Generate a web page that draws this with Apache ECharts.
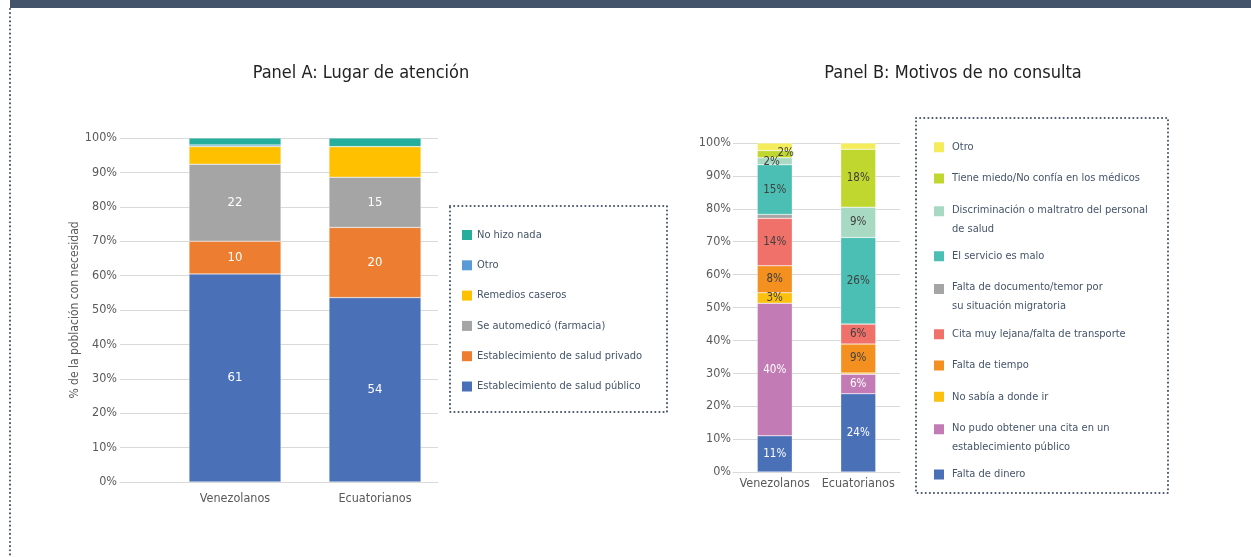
<!DOCTYPE html>
<html>
<head>
<meta charset="utf-8">
<script src="https://cdn.jsdelivr.net/npm/echarts@6/dist/echarts.min.js"></script>
<style>
  html, body { margin: 0; padding: 0; background: #fff; }
  #main { width: 1251px; height: 557px; }
</style>
</head>
<body>
<div id="main"></div>
<script>
  var categories = ['Venezolanos', 'Ecuatorianos'];

  // Panel A: Lugar de atención (% de la población con necesidad)
  var namesA = ['Establecimiento de salud público', 'Establecimiento de salud privado',
                'Se automedicó (farmacia)', 'Remedios caseros', 'Otro', 'No hizo nada'];
  var publico    = [60.5, 53.6];
  var privado    = [9.5, 20.4];
  var automedico = [22.4, 14.6];
  var remedios   = [5.1, 8.9];
  var otroA      = [0.5, 0];
  var nada       = [2.0, 2.5];
  var colorsA = ['#4a70b7', '#ed7d31', '#a5a5a5', '#ffc000', '#5b9bd5', '#26ae9c'];

  // Panel B: Motivos de no consulta (%)
  var namesB = ['Falta de dinero', 'No pudo obtener una cita en un establecimiento público',
                'No sabía a donde ir', 'Falta de tiempo', 'Cita muy lejana/falta de transporte',
                'Falta de documento/temor por su situación migratoria', 'El servicio es malo',
                'Discriminación o maltratro del personal de salud',
                'Tiene miedo/No confía en los médicos', 'Otro'];
  var dinero       = [11.0, 23.8];
  var noCita       = [40.3, 5.9];
  var noSabia      = [3.2, 0.4];
  var tiempo       = [8.2, 8.8];
  var lejana       = [14.4, 6.1];
  var documento    = [1.2, 0];
  var servicio     = [15.1, 26.3];
  var discrim      = [2.1, 9.2];
  var miedo        = [2.2, 17.6];
  var otroB        = [2.3, 1.9];
  var colorsB = ['#4a70b8', '#c27bb5', '#fcc010', '#f39020', '#f0706a',
                 '#a5a5a5', '#4bbfb3', '#a8dac3', '#c0d730', '#f4ec5a'];

  // two-line legend entries of panel B
  var legendWrapB = {
    'No pudo obtener una cita en un establecimiento público': ['No pudo obtener una cita en un', 'establecimiento público'],
    'Falta de documento/temor por su situación migratoria': ['Falta de documento/temor por', 'su situación migratoria'],
    'Discriminación o maltratro del personal de salud': ['Discriminación o maltratro del personal', 'de salud']
  };

  var FONT = '"DejaVu Sans Condensed", "DejaVu Sans", sans-serif';
  var GRID_LINE = '#d9d9d9';
  var TEXT_GRAY = '#595959';
  var LEGEND_TEXT = '#44546a';

  // legend B icons: square centred for one-line items, on the first line for two-line items
  var ICON_ONE = 'path://M0,0h0.01v0.01h-0.01zM0,6.25h10v10h-10zM0,22.5h0.01v0.01h-0.01z';
  var ICON_TWO = 'path://M0,0h10v10h-10zM0,22.5h0.01v0.01h-0.01z';

  var valuesA = [publico, privado, automedico, remedios, otroA, nada];
  var labeledA = [true, true, true, false, false, false];
  var valuesB = [dinero, noCita, noSabia, tiempo, lejana, documento, servicio, discrim, miedo, otroB];
  var labeledB = [true, true, true, true, true, false, true, true, true, false];
  var whiteLabelB = [true, true, false, false, false, false, false, false, false, false];

  var series = [];
  namesA.forEach(function (name, i) {
    series.push({
      name: name,
      type: 'bar',
      stack: 'A',
      xAxisIndex: 1,
      yAxisIndex: 1,
      barWidth: 92,
      data: valuesA[i],
      itemStyle: { color: colorsA[i], borderColor: 'rgba(255,255,255,0.6)', borderWidth: 0.5 },
      label: {
        show: labeledA[i],
        position: 'inside',
        color: '#fff',
        fontFamily: FONT,
        fontSize: 13,
        formatter: function (p) { return Math.round(p.value); }
      }
    });
  });
  namesB.forEach(function (name, i) {
    var data = valuesB[i].map(function (v) { return v; });
    if (i === 7) data[0] = { value: valuesB[i][0], label: { offset: [-3, 1] } };
    if (i === 8) data[0] = { value: valuesB[i][0], label: { offset: [11, -1] } };
    series.push({
      name: name,
      type: 'bar',
      stack: 'B',
      xAxisIndex: 2,
      yAxisIndex: 2,
      barWidth: 35,
      data: data,
      itemStyle: { color: colorsB[i], borderColor: 'rgba(255,255,255,0.6)', borderWidth: 0.5 },
      label: {
        show: labeledB[i],
        position: 'inside',
        color: whiteLabelB[i] ? '#fff' : '#404040',
        fontFamily: FONT,
        fontSize: 11.5,
        formatter: function (p) { return p.value >= 1.5 ? Math.round(p.value) + '%' : ''; }
      }
    });
  });

  var legendFont = { fontFamily: FONT, fontSize: 11, color: LEGEND_TEXT };

  var myChart = echarts.init(document.getElementById('main'));

  var option = {
    animation: false,
    backgroundColor: '#fff',
    title: [
      { text: 'Panel A: Lugar de atención', left: 361, top: 64, padding: 0, textAlign: 'center',
        textStyle: { fontFamily: FONT, fontSize: 18, fontWeight: 'normal', color: '#222' } },
      { text: 'Panel B: Motivos de no consulta', left: 953, top: 64, padding: 0, textAlign: 'center',
        textStyle: { fontFamily: FONT, fontSize: 18, fontWeight: 'normal', color: '#222' } }
    ],
    legend: [
      {
        orient: 'vertical',
        left: 462,
        top: 227.5,
        padding: 0,
        itemWidth: 10,
        itemHeight: 10,
        itemGap: 15.3,
        icon: 'rect',
        selectedMode: false,
        textStyle: { fontFamily: FONT, fontSize: 11, color: LEGEND_TEXT, lineHeight: 15 },
        data: namesA.slice().reverse().map(function (n) {
          return { name: n, itemStyle: { color: colorsA[namesA.indexOf(n)], borderWidth: 0 } };
        })
      },
      {
        orient: 'vertical',
        left: 934,
        top: 136,
        padding: 0,
        itemWidth: 10,
        itemHeight: 22.5,
        itemGap: 8.7,
        selectedMode: false,
        textStyle: {
          fontFamily: FONT, fontSize: 11, color: LEGEND_TEXT, lineHeight: 19, padding: [0, 0, 0, 3],
          rich: {
            a: Object.assign({ lineHeight: 22.5 }, legendFont),
            b: Object.assign({ lineHeight: 15.5 }, legendFont)
          }
        },
        formatter: function (n) {
          var w = legendWrapB[n];
          return w ? '{a|' + w[0] + '}\n{b|' + w[1] + '}' : n;
        },
        data: namesB.slice().reverse().map(function (n) {
          return { name: n, icon: legendWrapB[n] ? ICON_TWO : ICON_ONE,
                   itemStyle: { color: colorsB[namesB.indexOf(n)], borderWidth: 0 } };
        })
      }
    ],
    grid: [
      { left: 120, top: 138, width: 318, height: 344 },
      { left: 165, top: 138, width: 280, height: 344 },
      { left: 733, top: 143, width: 167, height: 329 }
    ],
    xAxis: [
      { type: 'category', gridIndex: 0, data: ['', ''],
        axisLine: { lineStyle: { color: GRID_LINE, width: 1 } },
        axisTick: { show: false }, axisLabel: { show: false } },
      { type: 'category', gridIndex: 1, data: categories,
        axisLine: { show: false }, axisTick: { show: false },
        axisLabel: { interval: 0, color: TEXT_GRAY, fontFamily: FONT, fontSize: 12.5, margin: 10 } },
      { type: 'category', gridIndex: 2, data: categories,
        axisLine: { lineStyle: { color: GRID_LINE, width: 1 } }, axisTick: { show: false },
        axisLabel: { interval: 0, hideOverlap: false, color: TEXT_GRAY, fontFamily: FONT, fontSize: 12.5, margin: 5 } }
    ],
    yAxis: [
      { type: 'value', gridIndex: 0, min: 0, max: 100, interval: 10,
        name: '% de la población con necesidad', nameLocation: 'middle', nameGap: 34,
        nameTextStyle: { color: TEXT_GRAY, fontFamily: FONT, fontSize: 12 },
        axisLabel: { formatter: '{value}%', color: TEXT_GRAY, fontFamily: FONT, fontSize: 12.5, margin: 3 },
        splitLine: { lineStyle: { color: GRID_LINE } },
        axisLine: { show: false }, axisTick: { show: false } },
      { type: 'value', gridIndex: 1, min: 0, max: 100, show: false },
      { type: 'value', gridIndex: 2, min: 0, max: 100, interval: 10,
        axisLabel: { formatter: '{value}%', color: TEXT_GRAY, fontFamily: FONT, fontSize: 12.5, margin: 2 },
        splitLine: { lineStyle: { color: GRID_LINE } },
        axisLine: { show: false }, axisTick: { show: false } }
    ],
    graphic: [
      { type: 'rect', shape: { x: 10, y: 0, width: 1241, height: 8 }, style: { fill: '#44546a' } },
      { type: 'line', shape: { x1: 10, y1: 9, x2: 10, y2: 557 },
        style: { stroke: '#44546a', lineWidth: 2, lineDash: [0.1, 4], lineCap: 'round' } },
      { type: 'rect', shape: { x: 450, y: 206, width: 217, height: 206 },
        style: { fill: 'none', stroke: '#44546a', lineWidth: 2, lineDash: [0.1, 4], lineCap: 'round' } },
      { type: 'rect', shape: { x: 916, y: 118, width: 252, height: 375 },
        style: { fill: 'none', stroke: '#44546a', lineWidth: 2, lineDash: [0.1, 4], lineCap: 'round' } }
    ],
    series: series
  };

  myChart.setOption(option);
</script>
</body>
</html>
